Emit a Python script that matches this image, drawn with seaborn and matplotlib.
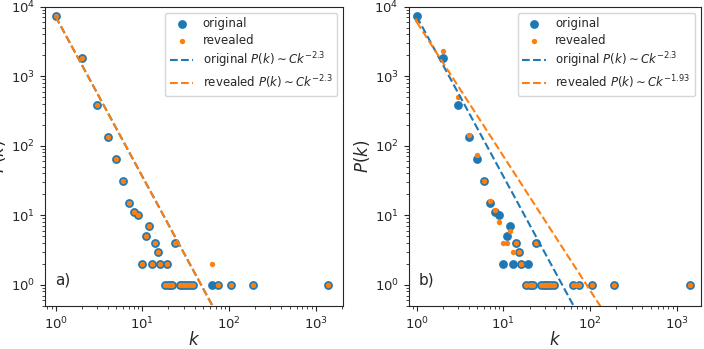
import matplotlib
matplotlib.use("Agg")
import matplotlib.pyplot as plt
import numpy as np
import seaborn as sns

# degree values k and counts P(k)
k_orig = [1, 2, 3, 4, 5, 6, 7, 8, 9, 10, 11, 12, 13, 14, 15, 16, 18, 19, 20, 21, 22, 24,
          27, 29, 31, 33, 35, 38, 63, 75, 105, 190, 1400]
p_orig = [7400, 1850, 390, 135, 65, 31, 15, 11, 10, 2, 5, 7, 2, 4, 3, 2, 1, 2, 1, 1, 1, 4,
          1, 1, 1, 1, 1, 1, 1, 1, 1, 1, 1]

# panel a) revealed network
k_rev_a = [1, 2, 3, 4, 5, 6, 7, 8, 9, 10, 11, 12, 13, 14, 15, 16, 18, 19, 20, 21, 22, 24,
           27, 29, 31, 33, 35, 38, 63, 75, 105, 190, 1400]
p_rev_a = [7400, 1850, 390, 135, 65, 31, 15, 11, 10, 2, 5, 7, 2, 4, 3, 2, 1, 2, 1, 1, 1, 4,
           1, 1, 1, 1, 1, 1, 2, 1, 1, 1, 1]

# panel b) revealed network
k_rev_b = [1, 2, 3, 4, 5, 6, 7, 8, 9, 10, 11, 12, 13, 14, 15, 16, 18, 20, 21, 22, 24,
           27, 29, 31, 33, 35, 38, 63, 68, 75, 105, 190, 1400]
p_rev_b = [6400, 2300, 500, 145, 74, 31, 16, 12, 8, 4, 4, 6, 3, 4, 3, 2, 1, 1, 1, 1, 4,
           1, 1, 1, 1, 1, 1, 1, 1, 1, 1, 1, 1]

# power-law fits P(k) ~ C k^-gamma
C_orig, g_orig = 7200, 2.3
C_rev_a, g_rev_a = 7200, 2.3
C_rev_b, g_rev_b = 6000, 1.93

sns.set_style("ticks")
pal = sns.color_palette("tab10")
blue, orange = pal[0], pal[1]


def panel(ax, k_rev, p_rev, C_rev, g_rev, tag, xlim):
    ax.set_xscale("log")
    ax.set_yscale("log")
    sns.scatterplot(x=k_orig, y=p_orig, ax=ax, color=blue, s=40, linewidth=0,
                    label="original")
    sns.scatterplot(x=k_rev, y=p_rev, ax=ax, color=orange, s=15, linewidth=0,
                    label="revealed")
    kk = np.array(k_orig, dtype=float)
    sns.lineplot(x=kk, y=C_orig * kk ** -g_orig, ax=ax, color=blue, linestyle="--",
                 linewidth=1.5, label=r"original $P(k) \sim Ck^{-%s}$" % g_orig)
    sns.lineplot(x=kk, y=C_rev * kk ** -g_rev, ax=ax, color=orange, linestyle="--",
                 linewidth=1.5, label=r"revealed $P(k) \sim Ck^{-%s}$" % g_rev)
    ax.set_xlim(*xlim)
    ax.set_ylim(0.5, 1e4)
    ax.set_xlabel("$k$", fontsize=12, labelpad=-1)
    ax.set_ylabel("$P(k)$", fontsize=12, labelpad=2)
    ax.tick_params(labelsize=9.5)
    ax.text(0.035, 0.085, tag, transform=ax.transAxes, fontsize=11, va="center")
    ax.legend(loc="upper right", fontsize=8.5, labelspacing=0.3)


fig = plt.figure(figsize=(7.04, 3.49), dpi=100)
ax1 = fig.add_axes([0.0639, 0.1241, 0.4237, 0.8567])
ax2 = fig.add_axes([0.5803, 0.1241, 0.4155, 0.8567])
panel(ax1, k_rev_a, p_rev_a, C_rev_a, g_rev_a, "a)", (0.753, 2075))
panel(ax2, k_rev_b, p_rev_b, C_rev_b, g_rev_b, "b)", (0.804, 1900))

fig.savefig("out.png", dpi=100)
